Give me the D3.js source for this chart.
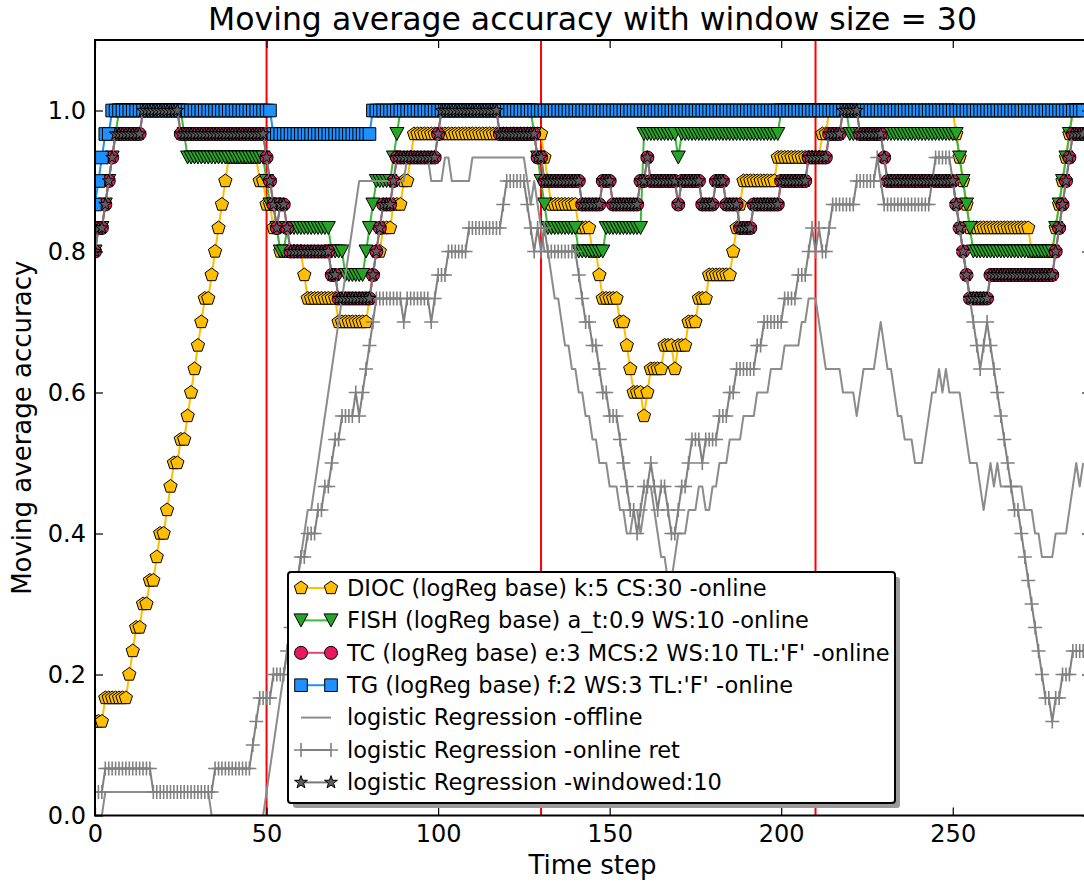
<!DOCTYPE html>
<html>
<head>
<meta charset="utf-8">
<script src="https://cdn.jsdelivr.net/npm/d3@7"></script>
<style>
  body { margin: 0; background: #fff; }
  svg { display: block; font-family: "DejaVu Sans", sans-serif; }
</style>
</head>
<body>
<div id="chart"></div>
<script>
// moving average window (accuracy = correct predictions in window / WINDOW)
const WINDOW = 30;

const xTicks = [0, 50, 100, 150, 200, 250];
const yTicks = [0.0, 0.2, 0.4, 0.6, 0.8, 1.0];
const driftSteps = [0, 50, 130, 210];

const seriesNames = [
  "DIOC (logReg base) k:5 CS:30 -online",
  "FISH (logReg base) a_t:0.9 WS:10 -online",
  "TC (logReg base) e:3 MCS:2 WS:10 TL:'F' -online",
  "TG (logReg base) f:2 WS:3 TL:'F' -online",
  "logistic Regression -offline",
  "logistic Regression -online ret",
  "logistic Regression -windowed:10"
];

// correct predictions in the last 30 steps, one value per time step (t = 0..288)
const diocHits = [
  4,4,4,5,5,5,5,5,5,5,  6,7,8,8,9,9,10,10,11,12,  12,13,14,15,15,16,16,17,18,19,
  20,21,22,22,23,24,25,26,27,28,  28,28,28,28,28,28,28,28,27,27,  26,26,25,25,24,24,24,24,24,24,
  24,23,22,22,22,22,22,22,22,22,  22,21,21,21,21,21,21,21,21,21,  22,23,24,24,25,25,25,26,26,26,
  27,27,28,29,29,29,29,29,29,29,  29,29,29,29,29,29,29,29,29,29,  29,29,29,29,29,29,29,29,29,29,
  29,29,29,29,29,29,29,29,29,29,  29,28,27,26,26,26,26,26,26,26,  26,25,25,25,25,24,24,23,22,22,
  22,22,22,21,21,20,19,18,18,18,  17,18,19,19,19,19,20,20,20,19,  20,20,20,21,21,21,22,22,22,23,
  23,23,23,23,23,23,24,25,26,27,  27,27,27,27,27,27,27,27,27,28,  28,28,28,28,28,28,28,28,28,28,
  28,28,29,29,30,30,30,30,30,30,  30,30,30,30,30,30,30,30,30,30,  30,30,30,30,30,30,30,30,30,30,
  30,30,30,30,30,30,30,30,30,30,  30,29,28,27,26,25,25,25,25,25,  25,25,25,25,25,25,25,25,25,25,
  25,25,25,24,24,24,24,24,24,24,  25,26,27,28,29,30,30,30,30
];

const fishHits = [
  24,25,25,26,27,28,29,30,30,30,  30,30,30,30,30,30,30,30,30,30,  30,30,30,30,30,30,29,28,28,28,
  28,28,28,28,28,28,28,28,28,28,  28,28,28,28,28,28,28,28,28,28,  27,26,26,25,24,24,25,25,25,25,
  25,25,25,25,25,25,25,25,25,24,  24,24,24,23,23,23,23,23,23,24,  25,26,27,27,27,27,27,28,29,30,
  30,30,30,30,30,30,30,30,30,30,  30,30,30,30,30,30,30,30,30,30,  30,30,30,30,30,30,30,30,30,30,
  30,30,30,30,30,30,30,30,29,28,  27,26,25,25,25,25,25,25,25,25,  25,24,24,24,24,24,24,24,24,25,
  25,25,25,25,25,25,25,25,25,25,  29,29,29,29,29,29,29,29,29,29,  28,29,29,29,29,29,29,29,29,29,
  29,29,29,29,29,29,29,29,29,29,  29,29,29,29,29,29,29,29,29,29,  30,30,30,30,30,30,30,30,30,30,
  30,30,30,30,30,30,30,30,30,30,  29,29,29,29,29,29,29,29,29,29,  29,29,29,29,29,29,29,29,29,29,
  29,29,29,29,29,29,29,29,29,29,  29,29,28,27,26,25,24,24,24,24,  24,24,24,24,24,24,24,24,24,24,
  24,24,24,24,24,24,24,24,24,24,  25,26,27,28,29,30,30,30,30
];

const tcHits = [
  24,25,25,26,27,28,29,29,29,29,  29,29,29,29,30,30,30,30,30,30,  30,30,30,30,30,29,29,29,29,29,
  29,29,29,29,29,29,29,29,29,29,  29,29,29,29,29,29,29,29,29,29,  28,27,26,25,26,26,25,24,24,24,
  24,24,24,24,24,24,24,24,24,23,  23,22,22,22,22,22,22,22,22,22,  22,23,24,25,26,26,26,27,28,28,
  28,28,28,28,28,28,28,28,28,28,  29,30,30,30,30,30,30,30,30,30,  30,30,30,30,30,30,30,30,29,29,
  29,29,29,29,29,29,29,29,29,28,  28,27,27,27,27,27,27,27,27,27,  27,27,26,26,26,26,26,26,27,27,
  27,26,26,26,26,26,26,26,26,27,  27,28,27,27,27,27,27,27,27,27,  26,27,27,27,27,27,27,26,26,26,
  26,27,27,27,26,26,26,26,25,25,  25,25,26,26,26,26,26,26,26,26,  27,27,27,27,27,27,27,27,28,28,
  28,28,28,28,29,29,29,29,30,30,  30,30,30,29,29,29,29,29,29,29,  28,27,27,27,27,27,27,27,27,27,
  27,27,27,27,27,27,27,27,27,27,  27,26,25,24,23,22,22,22,22,22,  22,23,23,23,23,23,23,23,23,23,
  23,23,23,23,23,23,23,23,23,23,  24,25,26,27,28,29,29,29,29
];

const tgHits = [
  26,27,28,29,29,30,30,30,30,30,  30,30,30,30,30,30,30,30,30,30,  30,30,30,30,30,30,30,30,30,30,
  30,30,30,30,30,30,30,30,30,30,  30,30,30,30,30,30,30,30,30,30,  30,30,29,29,29,29,29,29,29,29,
  29,29,29,29,29,29,29,29,29,29,  29,29,29,29,29,29,29,29,29,29,  29,30,30,30,30,30,30,30,30,30,
  30,30,30,30,30,30,30,30,30,30,  30,30,30,30,30,30,30,30,30,30,  30,30,30,30,30,30,30,30,30,30,
  30,30,30,30,30,30,30,30,30,30,  30,30,30,30,30,30,30,30,30,30,  30,30,30,30,30,30,30,30,30,30,
  30,30,30,30,30,30,30,30,30,30,  30,30,30,30,30,30,30,30,30,30,  30,30,30,30,30,30,30,30,30,30,
  30,30,30,30,30,30,30,30,30,30,  30,30,30,30,30,30,30,30,30,30,  30,30,30,30,30,30,30,30,30,30,
  30,30,30,30,30,30,30,30,30,30,  30,30,30,30,30,30,30,30,30,30,  30,30,30,30,30,30,30,30,30,30,
  30,30,30,30,30,30,30,30,30,30,  30,30,30,30,30,30,30,30,30,30,  30,30,30,30,30,30,30,30,30,30,
  30,30,30,30,30,30,30,30,30,30,  30,30,30,30,30,30,30,30,30
];

const offlineHits = [
  0,0,0,1,1,1,1,1,1,1,  1,1,1,1,1,1,1,1,1,1,  1,1,1,1,1,1,1,1,1,1,
  1,1,1,1,0,0,0,0,0,0,  0,0,0,0,0,0,0,0,0,0,  1,2,3,4,5,6,7,8,9,10,
  11,12,13,13,14,15,16,17,18,19,  20,21,22,23,24,25,26,27,27,27,  27,27,27,27,27,27,27,27,27,27,
  27,28,28,28,28,28,28,28,27,27,  27,27,28,28,27,27,27,27,27,27,  28,28,28,28,28,28,28,28,28,28,
  28,28,28,28,28,28,27,26,27,26,  25,24,24,23,22,22,21,20,20,19,  19,18,18,17,17,16,16,15,15,15,
  14,14,14,13,13,12,12,13,13,12,  13,14,14,13,12,11,11,10,10,11,  12,12,12,13,13,13,14,14,13,13,
  14,14,15,15,15,16,16,16,16,17,  17,17,17,18,18,18,18,19,19,19,  19,20,20,20,20,20,21,21,22,22,
  22,21,20,19,19,19,19,19,18,18,  18,18,17,18,19,19,19,19,20,21,  20,19,19,18,17,17,16,16,16,15,
  15,15,16,17,18,18,19,18,19,18,  18,18,18,17,16,15,15,15,14,13,  14,15,14,15,14,14,14,14,14,14,
  14,13,13,13,12,12,11,11,11,11,  12,12,12,12,13,14,15,14,15
];

const onlineHits = [
  1,1,1,2,2,2,2,2,2,2,  2,2,2,2,2,2,2,1,1,1,  1,1,1,1,1,1,1,1,1,1,
  1,1,1,1,1,2,2,2,2,2,  2,2,2,2,2,2,3,4,5,5,  5,5,6,6,6,6,7,8,9,10,
  11,11,12,12,12,13,13,14,14,15,  16,16,17,17,17,17,18,17,18,19,  20,21,22,22,22,22,22,22,22,22,
  21,22,22,22,22,22,22,22,21,22,  23,23,23,24,24,24,24,24,24,25,  25,25,25,25,25,25,25,25,25,26,
  27,27,27,27,27,27,26,25,24,25,  24,25,24,24,24,24,24,24,24,24,  24,23,22,21,21,20,20,19,18,18,
  17,17,17,16,15,14,13,13,12,13,  14,14,15,14,13,14,14,13,12,12,  13,14,14,15,16,16,16,15,16,16,
  16,16,17,17,17,18,18,19,19,19,  19,19,19,20,20,21,21,21,21,21,  21,22,22,22,22,23,23,23,24,25,
  24,25,24,24,25,26,26,26,26,26,  26,26,27,27,27,27,27,27,28,27,  26,26,26,26,26,26,26,26,26,26,
  26,26,26,26,27,28,28,28,28,28,  27,26,25,24,23,22,21,20,19,20,  21,20,19,18,17,16,15,14,13,13,
  12,11,10,9,8,7,6,5,5,4,  5,5,6,6,6,7,7,7,7
];

const windowedHits = [
  24,25,25,26,27,28,29,29,29,29,  29,29,29,29,30,30,30,30,30,30,  30,30,30,30,30,29,29,29,29,29,
  29,29,29,29,29,29,29,29,29,29,  29,29,29,29,29,29,29,29,29,29,  28,27,26,25,26,26,25,24,24,24,
  24,24,24,24,24,24,24,24,24,23,  23,22,22,22,22,22,22,22,22,22,  22,23,24,25,26,26,26,27,28,28,
  28,28,28,28,28,28,28,28,28,28,  29,30,30,30,30,30,30,30,30,30,  30,30,30,30,30,30,30,30,29,29,
  29,29,29,29,29,29,29,29,29,28,  28,27,27,27,27,27,27,27,27,27,  27,27,26,26,26,26,26,26,27,27,
  27,26,26,26,26,26,26,26,26,27,  27,28,27,27,27,27,27,27,27,27,  26,27,27,27,27,27,27,26,26,26,
  26,27,27,27,26,26,26,26,25,25,  25,25,26,26,26,26,26,26,26,26,  27,27,27,27,27,27,27,27,28,28,
  28,28,28,28,29,29,29,29,30,30,  30,30,30,29,29,29,29,29,29,29,  28,27,27,27,27,27,27,27,27,27,
  27,27,27,27,27,27,27,27,27,27,  27,26,25,24,23,22,22,22,22,22,  22,23,23,23,23,23,23,23,23,23,
  23,23,23,23,23,23,23,23,23,23,  24,25,26,27,28,29,29,29,29
];

const W = 1084;
const H = 883;
const M = { top: 40, right: 1090, bottom: 815.5, left: 95 };

// marker paths centred on 0,0
function polygon(n, r, rot) {
  const pts = d3.range(n).map(i => {
    const a = rot + i * 2 * Math.PI / n;
    return [r * Math.cos(a), r * Math.sin(a)];
  });
  return "M" + pts.map(p => p.join(",")).join("L") + "Z";
}
function star(r1, r2) {
  const pts = d3.range(10).map(i => {
    const a = -Math.PI / 2 + i * Math.PI / 5;
    const r = i % 2 ? r2 : r1;
    return [r * Math.cos(a), r * Math.sin(a)];
  });
  return "M" + pts.map(p => p.join(",")).join("L") + "Z";
}
const shapes = {
  pentagon: polygon(5, 7, -Math.PI / 2),
  triangle: "M-7,-6.5L7,-6.5L0,6.5Z",
  circle: "M-6.5,0A6.5,6.5 0 1,0 6.5,0A6.5,6.5 0 1,0 -6.5,0Z",
  square: "M-6.3,-6.3H6.3V6.3H-6.3Z",
  plus: "M-7,0H7M0,-7V7",
  star: star(6.8, 2.7)
};

const series = [
  { name: seriesNames[0], values: diocHits, line: "#ffbf00", fill: "#ffbf00", marker: "pentagon" },
  { name: seriesNames[1], values: fishHits, line: "#3cb93c", fill: "#27a327", marker: "triangle" },
  { name: seriesNames[2], values: tcHits, line: "#e8407a", fill: "#e8185c", marker: "circle" },
  { name: seriesNames[3], values: tgHits, line: "#1e90ff", fill: "#1e90ff", marker: "square" },
  { name: seriesNames[4], values: offlineHits, line: "#8c8c8c", fill: null, marker: null },
  { name: seriesNames[5], values: onlineHits, line: "#808080", fill: null, marker: "plus" },
  { name: seriesNames[6], values: windowedHits, line: "#787878", fill: "#5c5c5c", marker: "star" }
];

const svg = d3.select("#chart").append("svg").attr("width", W).attr("height", H);

const x = d3.scaleLinear().domain([0, 290]).range([M.left, M.right]);
const y = d3.scaleLinear().domain([0, 1.1]).range([M.bottom, M.top]);

svg.append("clipPath").attr("id", "plot")
  .append("rect")
  .attr("x", M.left).attr("y", M.top)
  .attr("width", M.right - M.left).attr("height", M.bottom - M.top);

const plot = svg.append("g").attr("clip-path", "url(#plot)");

// concept drift markers
plot.selectAll("line.drift")
  .data(driftSteps)
  .join("line")
  .attr("class", "drift")
  .attr("x1", d => x(d)).attr("x2", d => x(d))
  .attr("y1", M.top).attr("y2", M.bottom)
  .attr("stroke", "#ff0000")
  .attr("stroke-width", 2);

const line = d3.line()
  .x((d, i) => x(i))
  .y(d => y(d / WINDOW));

series.forEach(s => {
  const g = plot.append("g");
  g.append("path")
    .datum(s.values)
    .attr("d", line)
    .attr("fill", "none")
    .attr("stroke", s.line)
    .attr("stroke-width", 2)
    .attr("stroke-linejoin", "round");
  if (!s.marker) return;
  g.selectAll("path.mk")
    .data(s.values)
    .join("path")
    .attr("class", "mk")
    .attr("transform", (d, i) => `translate(${x(i)},${y(d / WINDOW)})`)
    .attr("d", shapes[s.marker])
    .attr("fill", s.marker === "plus" ? "none" : s.fill)
    .attr("stroke", s.marker === "plus" ? s.line : "#000")
    .attr("stroke-width", s.marker === "plus" ? 1.6 : 1);
});

// axes (ticks point inward on all four sides)
const axisG = svg.append("g");

axisG.append("g")
  .attr("transform", `translate(0,${M.bottom})`)
  .call(d3.axisBottom(x).tickValues(xTicks).tickSize(-8).tickPadding(9).tickFormat(d3.format("d")))
  .call(g => g.select(".domain").remove());

axisG.append("g")
  .attr("transform", `translate(0,${M.top})`)
  .call(d3.axisTop(x).tickValues(xTicks).tickSize(-8).tickFormat(""))
  .call(g => g.select(".domain").remove());

axisG.append("g")
  .attr("transform", `translate(${M.left},0)`)
  .call(d3.axisLeft(y).tickValues(yTicks).tickSize(-8).tickPadding(9).tickFormat(d3.format(".1f")))
  .call(g => g.select(".domain").remove());

axisG.append("g")
  .attr("transform", `translate(${M.right},0)`)
  .call(d3.axisRight(y).tickValues(yTicks).tickSize(-8).tickFormat(""))
  .call(g => g.select(".domain").remove());

axisG.selectAll(".tick line").attr("stroke", "#000").attr("stroke-width", 1.2);
axisG.selectAll(".tick text")
  .attr("fill", "#000")
  .attr("font-family", "DejaVu Sans")
  .attr("font-size", 24);

svg.append("rect")
  .attr("x", M.left).attr("y", M.top)
  .attr("width", M.right - M.left).attr("height", M.bottom - M.top)
  .attr("fill", "none").attr("stroke", "#000").attr("stroke-width", 2);

// title and axis labels
svg.append("text")
  .attr("x", (M.left + M.right) / 2)
  .attr("y", 30)
  .attr("text-anchor", "middle")
  .attr("font-size", 31.5)
  .text("Moving average accuracy with window size = 30");

svg.append("text")
  .attr("x", (M.left + M.right) / 2)
  .attr("y", 874)
  .attr("text-anchor", "middle")
  .attr("font-size", 26)
  .text("Time step");

svg.append("text")
  .attr("transform", `translate(31,${(M.top + M.bottom) / 2}) rotate(-90)`)
  .attr("text-anchor", "middle")
  .attr("font-size", 26)
  .text("Moving average accuracy");

// legend
const L = { x: 288, y: 572, w: 607, h: 231, row: 32.4 };
const legend = svg.append("g");
legend.append("rect")
  .attr("x", L.x + 5).attr("y", L.y + 5)
  .attr("width", L.w).attr("height", L.h)
  .attr("rx", 3)
  .attr("fill", "#9a9a9a");
legend.append("rect")
  .attr("x", L.x).attr("y", L.y)
  .attr("width", L.w).attr("height", L.h)
  .attr("rx", 3)
  .attr("fill", "#fff").attr("stroke", "#000").attr("stroke-width", 2);

const items = legend.selectAll("g.item")
  .data(series)
  .join("g")
  .attr("class", "item")
  .attr("transform", (d, i) => `translate(0,${L.y + 16 + i * L.row})`);

items.append("line")
  .attr("x1", 301).attr("x2", 331)
  .attr("stroke", d => d.line).attr("stroke-width", 2);

items.filter(d => d.marker)
  .selectAll("path")
  .data(d => [301, 331].map(px => ({ px, s: d })))
  .join("path")
  .attr("transform", d => `translate(${d.px},0)`)
  .attr("d", d => shapes[d.s.marker])
  .attr("fill", d => d.s.marker === "plus" ? "none" : d.s.fill)
  .attr("stroke", d => d.s.marker === "plus" ? d.s.line : "#000")
  .attr("stroke-width", d => d.s.marker === "plus" ? 1.6 : 1);

items.append("text")
  .attr("x", 347)
  .attr("dy", "0.35em")
  .attr("font-size", 22.5)
  .text(d => d.name);
</script>
</body>
</html>
